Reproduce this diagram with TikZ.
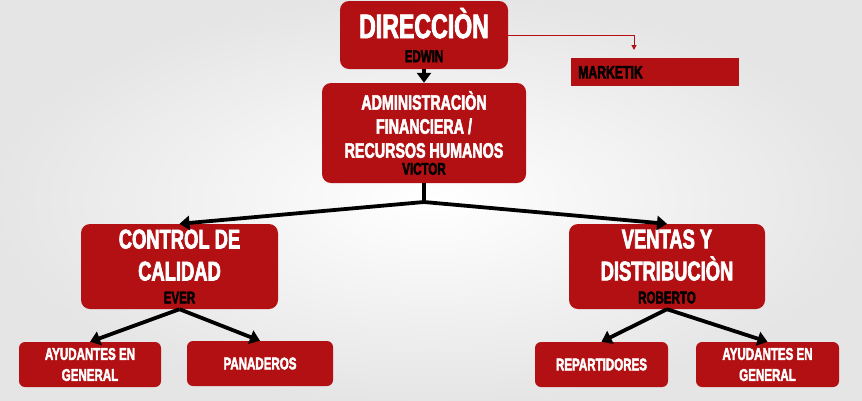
\documentclass[tikz,border=0pt]{standalone}
\usepackage{fontspec}
\newfontfamily\orgfont[FakeStretch=0.68,FakeBold=2.5]{Liberation Sans}
\usetikzlibrary{arrows.meta}
\definecolor{orgred}{RGB}{178,16,18}
\newcommand\fsz[2]{\fontsize{#1}{#2}\selectfont}
\newcommand\who[1]{{\color{black}#1}}
\tikzset{
  unit/.style={fill=orgred, rounded corners=9pt, text=white, align=center, inner sep=0pt, font=\orgfont\bfseries},
  mktbox/.style={fill=orgred, text=black, anchor=north west, inner sep=0pt, font=\orgfont\bfseries\fsz{18}{20}},
  link/.style={black, line width=3.8pt, -{Triangle[length=10pt,width=14pt]}},
  thinlink/.style={orgred, line width=1pt, -{Triangle[length=5pt,width=5pt]}}
}

\begin{document}
\begin{tikzpicture}[x=1pt,y=-1pt]
\useasboundingbox (0,0) rectangle (862,400);
\shade[inner color=white, outer color=black!10] (0,0) rectangle (862,400);

\node[unit, minimum width=168, minimum height=68, font=\orgfont\bfseries\fsz{17}{24}] (dir) at (424,35) {{\fsz{34}{24}DIRECCIÒN}\\\who{EDWIN}};
\node[unit, minimum width=204, minimum height=100, font=\orgfont\bfseries\fsz{21}{24}] (adm) at (424,133) {ADMINISTRACIÒN\\FINANCIERA /\\RECURSOS HUMANOS\\[-7pt]\who{\fsz{17}{20}VICTOR}};
\node[unit, minimum width=197, minimum height=85, font=\orgfont\bfseries\fsz{27}{32}] (ctl) at (179.5,266.5) {CONTROL DE\\CALIDAD\\[-9pt]\who{\fsz{17}{20}EVER}};
\node[unit, minimum width=196, minimum height=85, font=\orgfont\bfseries\fsz{27}{32}] (ven) at (667,266.5) {VENTAS Y\\DISTRIBUCIÒN\\[-9pt]\who{\fsz{17}{20}ROBERTO}};
\node[unit, rounded corners=6pt, minimum width=142, minimum height=45, font=\orgfont\bfseries\fsz{17}{21}] (ayl) at (90,364.5) {AYUDANTES EN\\GENERAL};
\node[unit, rounded corners=6pt, minimum width=146, minimum height=45, font=\orgfont\bfseries\fsz{17}{21}] (pan) at (260,363.5) {PANADEROS};
\node[unit, rounded corners=6pt, minimum width=133, minimum height=45, font=\orgfont\bfseries\fsz{17}{21}] (rep) at (601.5,364.5) {REPARTIDORES};
\node[unit, rounded corners=6pt, minimum width=143, minimum height=45, font=\orgfont\bfseries\fsz{17}{21}] (ayr) at (767.5,364.5) {AYUDANTES EN\\GENERAL};
\node[mktbox, minimum width=161, minimum height=28, text width=154, align=left, inner xsep=7pt] (mkt) at (571,58) {MARKETIK};

\coordinate (fork) at (424,202);
\coordinate (mktin) at (634,50);

\draw[link] (dir) -- (adm);
\draw[black, line width=3.8pt] (adm.south) -- (fork);
\draw[link] (fork) -- (ctl.north);
\draw[link] (fork) -- (ven.north);
\draw[link] (ctl.south) -- (ayl.north);
\draw[link] (ctl.south) -- (pan.north);
\draw[link] (ven.south) -- (rep.north);
\draw[link] (ven.south) -- (ayr.north);
\draw[thinlink] (dir.east) -| (mktin);
\end{tikzpicture}
\end{document}
